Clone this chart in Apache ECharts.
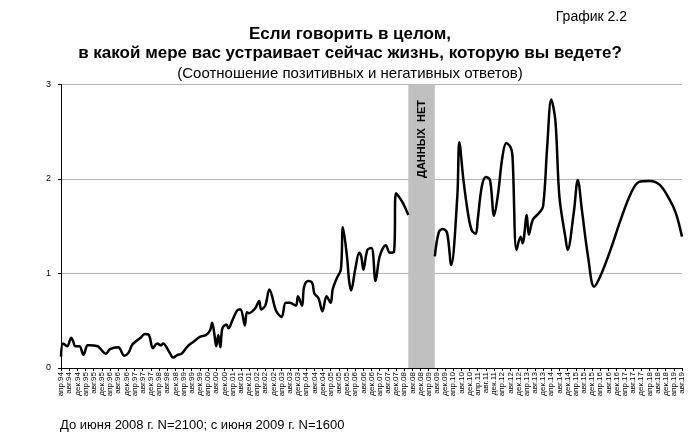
<!DOCTYPE html>
<html><head><meta charset="utf-8">
<script src="https://cdn.jsdelivr.net/npm/echarts@6/dist/echarts.min.js"></script>
<style>html,body{margin:0;padding:0;background:#fff}#c{width:700px;height:443px}</style>
</head><body><div id="c"></div>
<script>
// Month offsets from апр.94 (0 = апрель 1994)
var monthOffset = [0,1,3,5,6,7,9,11,13,14,18,19,22,24,28,31,33,35,39,41,43,45,47,49,50,53,55,57,59,62,65,68,71,73,74,75,76,77,78,79,81,82,84,87,88,90,91,92,95,97,98,100,102,105,106,108,110,112,115,116,118,119,121,123,124,126,128,130,132,133,135,137,138,140,141,142,144,146,147,148,150,152,154,156,159,161,163,164,167,170,
  176,
  183,185,187,189,191,194,195,197,199,201,203,204,206,208,210,212,214,216,218,220,221,223,225,226,228,229,231,234,236,238,240,242,244,247,248,251,253,255,258,261,264,269,274,279,283,288,293,298,301,304];
// Ratio of positive to negative answers (null = no data)
var ratio = [0.12,0.26,0.23,0.32,0.28,0.23,0.23,0.14,0.24,0.24,0.23,0.21,0.15,0.20,0.22,0.13,0.16,0.25,0.32,0.36,0.35,0.21,0.26,0.24,0.26,0.17,0.11,0.14,0.15,0.23,0.28,0.33,0.35,0.40,0.48,0.37,0.23,0.35,0.22,0.42,0.46,0.42,0.51,0.62,0.62,0.45,0.59,0.58,0.63,0.71,0.62,0.66,0.83,0.62,0.58,0.54,0.69,0.69,0.66,0.76,0.66,0.86,0.92,0.90,0.79,0.74,0.60,0.76,0.69,0.83,0.95,1.04,1.49,1.18,0.93,0.82,1.04,1.22,1.18,1.04,1.25,1.27,0.92,1.18,1.30,1.22,1.23,1.85,1.76,1.62,
  null,
  1.18,1.44,1.47,1.43,1.09,1.81,2.39,1.99,1.67,1.46,1.42,1.57,1.92,2.02,1.99,1.61,1.85,2.22,2.38,2.34,2.25,1.25,1.39,1.32,1.62,1.41,1.57,1.64,1.71,2.34,2.84,2.62,1.81,1.37,1.25,1.64,1.99,1.67,1.18,0.86,0.97,1.25,1.57,1.85,1.97,1.98,1.94,1.78,1.64,1.39];
// No-data period (month offsets)
var gapStart = 170, gapEnd = 183;
var gapLabel = 'ДАННЫХ  НЕТ';
// Tick labels: every 4 months from апр.94 to авг.19
var tickMonths = ['апр','авг','дек'];
var tickLabels = [];
for (var i = 0; i <= 76; i++) {
  var y = 94 + Math.floor(i / 3);
  tickLabels.push(tickMonths[i % 3] + '.' + String(y % 100).padStart(2, '0'));
}
var yTicks = [0,1,2,3];

var data = monthOffset.map(function(m, i){ return [m, ratio[i] === null ? '-' : ratio[i]]; });
var font = 'Liberation Sans, Arial, sans-serif';
var chart = echarts.init(document.getElementById('c'), null, {renderer:'canvas'});
chart.setOption({
  animation: false,
  backgroundColor: '#fff',
  textStyle: {fontFamily: font},
  title: [
    {text:'График 2.2', right: 68, top: 5, textStyle:{fontSize:14, fontWeight:'normal', color:'#000', fontFamily:font}},
    {text:'Если говорить в целом,', left:'center', top: 21, textStyle:{fontSize:17, fontWeight:'bold', color:'#000', fontFamily:font}},
    {text:'в какой мере вас устраивает сейчас жизнь, которую вы ведете?', left:'center', top: 40, textStyle:{fontSize:17, fontWeight:'bold', color:'#000', fontFamily:font}},
    {text:'(Соотношение позитивных и негативных ответов)', left:'center', top: 61, textStyle:{fontSize:15, fontWeight:'normal', color:'#000', fontFamily:font}},
    {text:'До июня 2008 г. N=2100; с июня 2009 г. N=1600', left: 55, top: 414, textStyle:{fontSize:13, fontWeight:'normal', color:'#000', fontFamily:font}}
  ],
  grid: {left: 61, right: 18, top: 84.5, bottom: 75, containLabel: false},
  xAxis: {
    type: 'value', min: 0, max: 304, interval: 4,
    axisLine: {lineStyle:{color:'#000', width:1}},
    axisTick: {show:true, length:3, lineStyle:{color:'#000'}},
    splitLine: {show:false},
    axisLabel: {rotate: 90, fontSize: 8, color:'#000', margin: 4, fontFamily: font,
      formatter: function(v){ return tickLabels[Math.round(v/4)] || ''; }}
  },
  yAxis: {
    type: 'value', min: 0, max: 3, interval: 1,
    axisLine: {show:true, lineStyle:{color:'#000', width:1}},
    axisTick: {show:true, length:3, lineStyle:{color:'#000'}},
    splitLine: {show:true, lineStyle:{color:'#b4b4b4', width:1}},
    axisLabel: {fontSize: 9, color:'#000', margin: 10, fontFamily: font,
      formatter: function(v){ return yTicks.indexOf(v) >= 0 ? String(v) : ''; }}
  },
  series: [{
    type: 'line', data: data, smooth: 0.35, showSymbol: false, connectNulls: false,
    lineStyle: {color:'#000', width: 2.5}, itemStyle:{color:'#000'},
    markArea: {silent: true, itemStyle:{color:'#c0c0c0', opacity:1},
      data: [[{xAxis: gapStart}, {xAxis: gapEnd}]]},
    z: 3
  }]
});
var px = chart.convertToPixel({xAxisIndex:0, yAxisIndex:0}, [(gapStart+gapEnd)/2, 2.45]);
chart.setOption({graphic: [{type:'text', x: px[0], y: 139, rotation: Math.PI/2, z: 10,
  style:{text: gapLabel, fontSize: 11, fontWeight:'bold', fill:'#000', align:'center', verticalAlign:'middle', fontFamily: font}}]});
</script></body></html>
